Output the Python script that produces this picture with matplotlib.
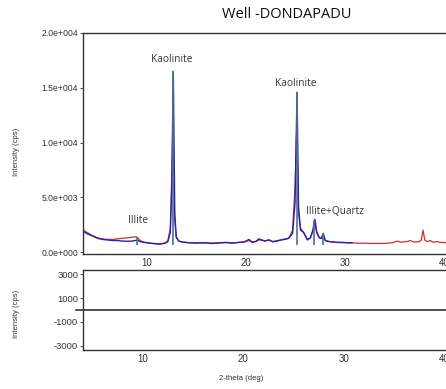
import matplotlib
matplotlib.use("Agg")
import matplotlib.pyplot as plt

# ---- data (2-theta in degrees, intensity in cps) ----
blue_tt = [3.5, 4.0, 4.5, 5.0, 5.5, 6.0, 6.5, 7.0, 7.5, 8.0, 8.5, 8.8, 9.0, 9.3, 9.7,
           10.2, 10.8, 11.3, 11.8, 12.1, 12.35, 12.5, 12.65, 12.8, 12.95, 13.2, 13.6,
           14.2, 15.0, 15.8, 16.5, 17.3, 18.0, 18.6, 19.2, 19.8, 20.3, 20.6, 21.0, 21.3,
           21.6, 21.9, 22.3, 22.7, 23.1, 23.5, 23.9, 24.3, 24.7, 24.95, 25.15, 25.3,
           25.5, 25.8, 26.2, 26.5, 26.75, 26.95, 27.15, 27.4, 27.6, 27.8, 28.0, 28.4,
           28.8, 29.3, 29.8, 30.3, 30.7]
blue_int = [1900, 1650, 1450, 1250, 1150, 1100, 1050, 1050, 1000, 980, 1000, 1050, 1100, 950, 880,
            820, 760, 730, 800, 950, 1800, 6000, 16500, 3500, 1400, 1000, 900,
            850, 820, 860, 780, 840, 880, 810, 870, 920, 1150, 880, 970, 1200,
            1080, 1000, 1120, 930, 1020, 1100, 1180, 1250, 1700, 4500, 14600, 4200,
            2000, 1800, 1100, 1300, 2000, 3000, 1800, 1300, 1250, 1700, 1050, 950,
            920, 870, 880, 840, 850]

red_tt = [3.5, 4.0, 4.5, 5.0, 5.5, 6.0, 6.5, 7.0, 7.5, 8.0, 8.5, 8.8, 9.0, 9.3, 9.7,
          10.2, 10.8, 11.3, 11.8, 12.1, 12.35, 12.5, 12.62, 12.78, 12.95, 13.2, 13.6,
          14.2, 15.0, 15.8, 16.5, 17.3, 18.0, 18.6, 19.2, 19.8, 20.3, 20.6, 21.0, 21.3,
          21.6, 21.9, 22.3, 22.7, 23.1, 23.5, 23.9, 24.3, 24.7, 24.95, 25.12, 25.3,
          25.5, 25.8, 26.2, 26.5, 26.75, 26.95, 27.15, 27.4, 27.6, 27.8, 28.0, 28.4,
          28.8, 29.3, 29.8, 30.3, 31.0, 32.0, 33.0, 34.0, 34.8, 35.3, 35.6, 36.2,
          36.6, 37.0, 37.5, 37.7, 37.88, 38.05, 38.3, 38.6, 38.9, 39.3, 39.7, 40.2,
          41.0, 42.0, 43.0, 44.0, 45.0]
red_int = [2050, 1750, 1500, 1300, 1200, 1150, 1150, 1200, 1250, 1300, 1350, 1380, 1370, 1050, 900,
           820, 770, 740, 820, 1000, 2200, 7000, 12500, 3000, 1300, 1000, 900,
           860, 830, 830, 810, 830, 860, 840, 870, 910, 1050, 920, 960, 1100,
           1100, 1020, 1080, 960, 1000, 1080, 1150, 1250, 2000, 6000, 11500, 3500,
           2200, 1800, 1150, 1300, 1900, 2600, 1700, 1300, 1250, 1500, 1050, 960,
           910, 880, 860, 850, 820, 800, 780, 790, 850, 1000, 900, 950,
           1050, 900, 950, 1100, 2000, 1100, 950, 1050, 900, 950, 880, 850,
           820, 800, 800, 790, 780]

stick_tt = [9.0, 12.6, 25.1, 26.85, 27.8]
stick_top = [1350, 16500, 14600, 2900, 1700]
stick_base = 650

labels = ["Kaolinite", "Kaolinite", "Illite", "Illite+Quartz"]
label_tt = [12.5, 25.05, 9.1, 29.0]
label_int = [17600, 15400, 2900, 3700]

top_yticks = [0, 5000, 10000, 15000, 20000]
top_yticklabels = ["0.0e+000", "5.0e+003", "1.0e+004", "1.5e+004", "2.0e+004"]
bot_yticks = [-3000, -1000, 1000, 3000]
xticks = [10, 20, 30, 40]

W, H = 446, 389
fig = plt.figure(figsize=(W / 100, H / 100), dpi=100)

def fx(px):
    return px / W

def fy(py):
    return 1 - py / H

spine_col = "#333333"
tick_font = {"family": "Liberation Sans", "size": 6.2, "color": "#333333"}

# top axes
x0_top, xmax = 3.53, 45.0
w_top = (xmax - x0_top) * 9.9
ax1 = fig.add_axes([fx(83), fy(254), w_top / W, (254 - 33) / H])
ax1.plot(red_tt, red_int, color="#d22a2a", lw=0.9, zorder=2)
ax1.plot(blue_tt, blue_int, color="#2222b8", lw=1.0, zorder=3)
ax1.vlines(stick_tt, stick_base, stick_top, color="#4f7388", lw=1.2, zorder=4)
ax1.set_xlim(x0_top, xmax)
ax1.set_ylim(-180, 20000)
ax1.set_yticks(top_yticks)
ax1.set_yticklabels(top_yticklabels, fontdict=tick_font)
ax1.set_xticks(xticks)
ax1.set_xticklabels([str(t) for t in xticks], fontdict={**tick_font, "size": 7})
ax1.tick_params(axis="both", length=2, width=0.6, color=spine_col, pad=1.5)
ax1.tick_params(axis="x", length=0, pad=3)
for s in ax1.spines.values():
    s.set_color(spine_col)
    s.set_linewidth(1.0)
for txt, t, v in zip(labels, label_tt, label_int):
    ax1.text(t, v, txt, ha="center", va="center", fontsize=7.3,
             family="Open Sans", color="#333333")

# bottom axes
x0_bot = 4.1
w_bot = (xmax - x0_bot) * 10.07
ax2 = fig.add_axes([fx(83), fy(350), w_bot / W, (350 - 270) / H])
ax2.axhline(0, xmin=-0.018, xmax=1, color="#222222", lw=1.1, clip_on=False)
ax2.set_xlim(x0_bot, xmax)
ax2.set_ylim(-3380, 3380)
ax2.set_yticks(bot_yticks)
ax2.set_yticklabels([str(t) for t in bot_yticks], fontdict={**tick_font, "size": 6.8})
ax2.set_xticks(xticks)
ax2.set_xticklabels([str(t) for t in xticks], fontdict={**tick_font, "size": 7})
ax2.tick_params(axis="both", length=2, width=0.6, color=spine_col, pad=1.5)
ax2.tick_params(axis="x", length=0, pad=3)
for s in ax2.spines.values():
    s.set_color(spine_col)
    s.set_linewidth(1.0)

fig.text(fx(287), fy(15), "Well -DONDAPADU", ha="center", va="center",
         fontsize=10.5, family="Open Sans", color="#111111")
fig.text(fx(16), fy(152), "Intensity (cps)", rotation=90, ha="center", va="center",
         fontsize=5.5, family="Liberation Sans", color="#333333")
fig.text(fx(16), fy(314), "Intensity (cps)", rotation=90, ha="center", va="center",
         fontsize=5.5, family="Liberation Sans", color="#333333")
fig.text(fx(241), fy(379), "2-theta (deg)", ha="center", va="center",
         fontsize=5.5, family="Liberation Sans", color="#333333")

fig.savefig("out.png", dpi=100)
